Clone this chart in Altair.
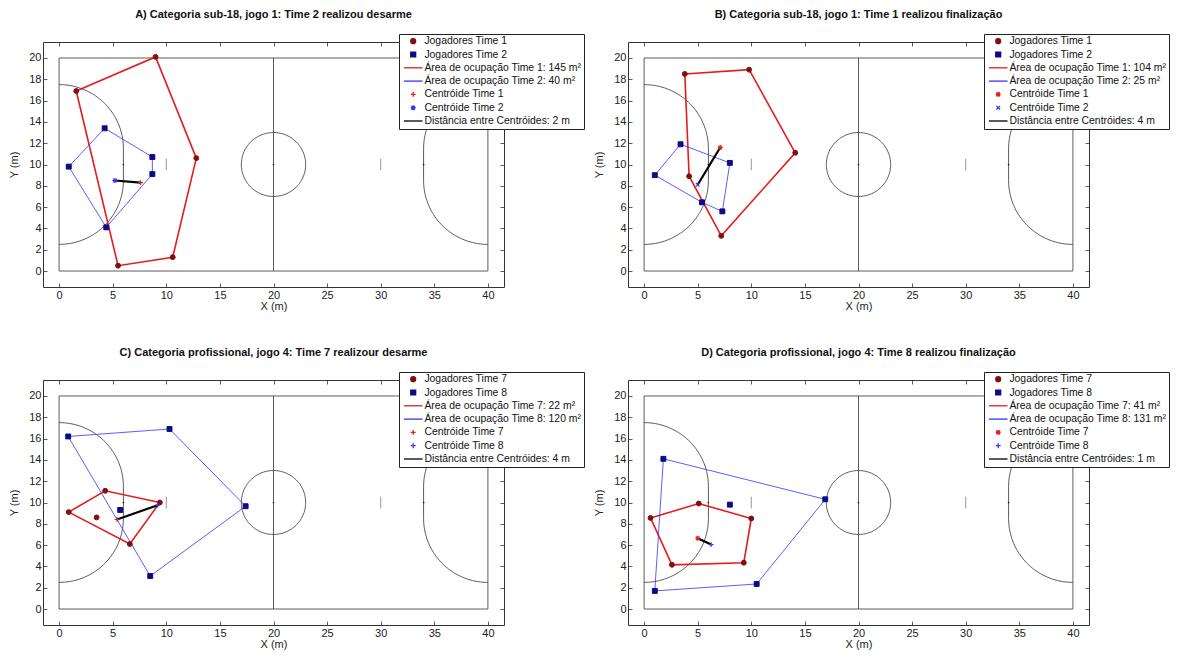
import altair as alt
import numpy as np
import pandas as pd

FONT = "Liberation Sans"

# ---------------- colours / symbols ----------------
RED = "#e51c1c"
BLUE = "#3434ff"
DARK_RED = "#7d1010"
NAVY = "#0b0b84"
COURT = "#4a4a4a"

PLUS = "M-1,0L1,0M0,-1L0,1"
XMARK = "M-0.75,-0.75L0.75,0.75M-0.75,0.75L0.75,-0.75"
STAR = PLUS + XMARK
LINE_SYM = "M-3.8,0L3.8,0"

# ---------------- court geometry (m) ----------------
COURT_LENGTH = 40
COURT_WIDTH = 20
CENTER_RADIUS = 3
AREA_RADIUS = 6
POST_Y = (8.5, 11.5)
PENALTY_SPOTS_X = [6, 20, 34]
SECOND_PENALTY_X = [10, 30]

X_TICKS = list(range(0, 41, 5))
Y_TICKS = list(range(0, 21, 2))

# ---------------- panel A ----------------
A_TITLE = "A) Categoria sub-18, jogo 1: Time 2 realizou desarme"
A_TEAMS = ["1", "2"]
A_AREAS = [145, 40]
A_DIST = 2
A_T1_X = [1.6, 9.0, 12.8, 10.6, 5.5]
A_T1_Y = [16.9, 20.1, 10.6, 1.3, 0.5]
A_T1_HULL = [1, 1, 1, 1, 1]
A_T2_X = [0.9, 4.25, 8.7, 8.7, 4.4]
A_T2_Y = [9.8, 13.4, 10.7, 9.1, 4.1]
A_T2_HULL = [1, 1, 1, 1, 1]
A_CENT_X = [7.6, 5.2]
A_CENT_Y = [8.3, 8.5]
A_CENT_SHAPES = [PLUS, STAR]

# ---------------- panel B ----------------
B_TITLE = "B) Categoria sub-18, jogo 1: Time 1 realizou finalização"
B_TEAMS = ["1", "2"]
B_AREAS = [104, 25]
B_DIST = 4
B_T1_X = [3.8, 9.8, 14.1, 7.2, 4.2]
B_T1_Y = [18.5, 18.9, 11.1, 3.3, 8.9]
B_T1_HULL = [1, 1, 1, 1, 1]
B_T2_X = [1.0, 3.4, 8.0, 7.3, 5.4]
B_T2_Y = [9.0, 11.9, 10.15, 5.6, 6.45]
B_T2_HULL = [1, 1, 1, 1, 1]
B_CENT_X = [7.1, 5.0]
B_CENT_Y = [11.6, 8.1]
B_CENT_SHAPES = [STAR, XMARK]

# ---------------- panel C ----------------
C_TITLE = "C) Categoria profissional, jogo 4: Time 7 realizour desarme"
C_TEAMS = ["7", "8"]
C_AREAS = [22, 120]
C_DIST = 4
C_T1_X = [0.9, 4.3, 9.4, 6.6, 3.5]
C_T1_Y = [9.1, 11.1, 10.0, 6.1, 8.6]
C_T1_HULL = [1, 1, 1, 1, 0]
C_T2_X = [0.85, 10.3, 17.4, 8.5, 5.7]
C_T2_Y = [16.2, 16.9, 9.65, 3.1, 9.3]
C_T2_HULL = [1, 1, 1, 1, 0]
C_CENT_X = [5.4, 9.2]
C_CENT_Y = [8.4, 9.75]
C_CENT_SHAPES = [PLUS, PLUS]

# ---------------- panel D ----------------
D_TITLE = "D) Categoria profissional, jogo 4: Time 8 realizou finalização"
D_TEAMS = ["7", "8"]
D_AREAS = [41, 131]
D_DIST = 1
D_T1_X = [0.6, 5.1, 10.0, 9.3, 2.6]
D_T1_Y = [8.55, 9.9, 8.5, 4.35, 4.15]
D_T1_HULL = [1, 1, 1, 1, 1]
D_T2_X = [1.8, 16.9, 10.5, 1.0, 8.0]
D_T2_Y = [14.1, 10.3, 2.35, 1.7, 9.8]
D_T2_HULL = [1, 1, 1, 1, 0]
D_CENT_X = [5.0, 6.25]
D_CENT_Y = [6.65, 6.05]
D_CENT_SHAPES = [STAR, PLUS]

PLOT_W = 461
PLOT_H = 245
LEGEND_X = 356
LEGEND_Y = -8


def court_frames():
    rows = []

    def add(name, xs, ys):
        for i, (x, y) in enumerate(zip(xs, ys)):
            rows.append({"seg": name, "x": float(x), "y": float(y), "ord": i})

    L, W = COURT_LENGTH, COURT_WIDTH
    add("boundary", [0, L, L, 0, 0], [0, 0, W, W, 0])
    add("half", [L / 2, L / 2], [0, W])
    t = np.linspace(0, 2 * np.pi, 121)
    add("circle", L / 2 + CENTER_RADIUS * np.cos(t), W / 2 + CENTER_RADIUS * np.sin(t))
    a1 = np.linspace(np.pi / 2, 0, 40)
    a2 = np.linspace(0, -np.pi / 2, 40)
    lx = np.concatenate([AREA_RADIUS * np.cos(a1), AREA_RADIUS * np.cos(a2)])
    ly = np.concatenate([POST_Y[1] + AREA_RADIUS * np.sin(a1),
                         POST_Y[0] + AREA_RADIUS * np.sin(a2)])
    add("area_left", lx, ly)
    add("area_right", L - lx, ly)
    marks = []
    for xm in SECOND_PENALTY_X:
        marks.append({"seg": f"m{xm}", "x": xm, "y": W / 2 - 0.55, "ord": 0})
        marks.append({"seg": f"m{xm}", "x": xm, "y": W / 2 + 0.55, "ord": 1})
    spots = pd.DataFrame({"x": PENALTY_SPOTS_X, "y": [W / 2] * len(PENALTY_SPOTS_X)})
    return pd.DataFrame(rows), pd.DataFrame(marks), spots


COURT_DF, MARKS_DF, SPOTS_DF = court_frames()


def panel(title, teams, areas, dist, t1x, t1y, t1h, t2x, t2y, t2h, cx, cy, cshapes):
    labels = [
        f"Jogadores Time {teams[0]}",
        f"Jogadores Time {teams[1]}",
        f"Área de ocupação Time {teams[0]}: {areas[0]} m²",
        f"Área de ocupação Time {teams[1]}: {areas[1]} m²",
        f"Centróide Time {teams[0]}",
        f"Centróide Time {teams[1]}",
        f"Distância entre Centróides: {dist} m",
    ]
    colors = [DARK_RED, NAVY, RED, BLUE, RED, BLUE, "black"]
    shapes = ["circle", "square", LINE_SYM, LINE_SYM, cshapes[0], cshapes[1], LINE_SYM]

    players = pd.DataFrame({
        "series": [labels[0]] * len(t1x) + [labels[1]] * len(t2x),
        "x": t1x + t2x,
        "y": t1y + t2y,
    })
    poly_rows = []
    for lab, xs, ys, hs in [(labels[2], t1x, t1y, t1h), (labels[3], t2x, t2y, t2h)]:
        hull = [(x, y) for x, y, h in zip(xs, ys, hs) if h]
        hull = hull + [hull[0]]
        for i, (x, y) in enumerate(hull):
            poly_rows.append({"series": lab, "x": x, "y": y, "ord": i})
    polys = pd.DataFrame(poly_rows)
    cents = pd.DataFrame({"series": [labels[4], labels[5]], "x": cx, "y": cy})
    dline = pd.DataFrame({"series": [labels[6]] * 2, "x": cx, "y": cy, "ord": [0, 1]})

    xs = alt.Scale(domain=[-1.5, 41.5], nice=False, zero=False)
    ys = alt.Scale(domain=[-1.5, 21.5], nice=False, zero=False)
    col_scale = alt.Scale(domain=labels, range=colors)
    shape_scale = alt.Scale(domain=labels, range=shapes)

    tick_common = dict(grid=False, domain=False, offset=-4, tickSize=4, tickColor="#333",
                       tickWidth=0.8)
    x_bottom = alt.Axis(values=X_TICKS, title="X (m)", labelPadding=2, titlePadding=0,
                        labelFontSize=11, titleFontSize=11, labelFont=FONT, titleFont=FONT,
                        titleFontWeight="normal", labelColor="#222", titleColor="#222",
                        **tick_common)
    y_left = alt.Axis(values=Y_TICKS, title="Y (m)", labelPadding=2, titlePadding=9,
                      labelFontSize=11, titleFontSize=11, labelFont=FONT, titleFont=FONT,
                      titleFontWeight="normal", labelColor="#222", titleColor="#222",
                      **tick_common)
    x_top = alt.Axis(values=X_TICKS, title=None, labels=False, orient="top", **tick_common)
    y_right = alt.Axis(values=Y_TICKS, title=None, labels=False, orient="right", **tick_common)

    legend = alt.Legend(
        title=None, orient="none", legendX=LEGEND_X, legendY=LEGEND_Y,
        symbolSize=24, symbolStrokeWidth=1.3, symbolOffset=7, labelOffset=6,
        labelFontSize=10.4, labelFont=FONT, labelColor="#111", labelLimit=400,
        padding=2, rowPadding=2.3, strokeColor="#222", fillColor="white",
        symbolOpacity=1,
    )

    def col(ch):
        if ch == "fill":
            return alt.Fill("series:N", scale=col_scale, legend=legend)
        return alt.Stroke("series:N", scale=col_scale, legend=legend)

    def shp():
        return alt.Shape("series:N", scale=shape_scale, legend=legend)

    court = alt.Chart(COURT_DF).mark_line(color=COURT, strokeWidth=0.9).encode(
        x=alt.X("x:Q", scale=xs, axis=x_top),
        y=alt.Y("y:Q", scale=ys, axis=y_right),
        detail="seg:N",
        order="ord:Q",
    )
    marks = alt.Chart(MARKS_DF).mark_line(color="#999", strokeWidth=1).encode(
        x=alt.X("x:Q", scale=xs, axis=None),
        y=alt.Y("y:Q", scale=ys, axis=None),
        detail="seg:N",
        order="ord:Q",
    )
    spots = alt.Chart(SPOTS_DF).mark_point(filled=True, size=3, color="#222", opacity=1).encode(
        x=alt.X("x:Q", scale=xs, axis=None),
        y=alt.Y("y:Q", scale=ys, axis=None),
    )

    def poly_layer(lab, width):
        return alt.Chart(polys).transform_filter(
            alt.datum.series == lab
        ).mark_line(strokeWidth=width).encode(
            x=alt.X("x:Q", scale=xs, axis=None),
            y=alt.Y("y:Q", scale=ys, axis=None),
            stroke=col("stroke"),
            order="ord:Q",
        )

    red_poly = poly_layer(labels[2], 1.6)
    blue_poly = poly_layer(labels[3], 0.8)
    dist_line = alt.Chart(dline).mark_line(strokeWidth=2.2).encode(
        x=alt.X("x:Q", scale=xs, axis=None),
        y=alt.Y("y:Q", scale=ys, axis=None),
        stroke=col("stroke"),
        order="ord:Q",
    )
    pts = alt.Chart(players).mark_point(filled=True, size=24, opacity=1, strokeWidth=1).encode(
        x=alt.X("x:Q", scale=xs, axis=x_bottom),
        y=alt.Y("y:Q", scale=ys, axis=y_left),
        fill=col("fill"),
        stroke=col("stroke"),
        shape=shp(),
    )
    cent = alt.Chart(cents).mark_point(filled=True, size=24, opacity=1, strokeWidth=1.1).encode(
        x=alt.X("x:Q", scale=xs, axis=None),
        y=alt.Y("y:Q", scale=ys, axis=None),
        fill=col("fill"),
        stroke=col("stroke"),
        shape=shp(),
    )

    return alt.layer(court, marks, spots, red_poly, blue_poly, dist_line, pts, cent).resolve_axis(
        x="independent", y="independent"
    ).properties(
        width=PLOT_W, height=PLOT_H,
        title=alt.Title(title, fontSize=11, font=FONT, fontWeight="bold", anchor="middle",
                        frame="group", offset=14, color="#111"),
    )


pa = panel(A_TITLE, A_TEAMS, A_AREAS, A_DIST, A_T1_X, A_T1_Y, A_T1_HULL,
           A_T2_X, A_T2_Y, A_T2_HULL, A_CENT_X, A_CENT_Y, A_CENT_SHAPES)
pb = panel(B_TITLE, B_TEAMS, B_AREAS, B_DIST, B_T1_X, B_T1_Y, B_T1_HULL,
           B_T2_X, B_T2_Y, B_T2_HULL, B_CENT_X, B_CENT_Y, B_CENT_SHAPES)
pc = panel(C_TITLE, C_TEAMS, C_AREAS, C_DIST, C_T1_X, C_T1_Y, C_T1_HULL,
           C_T2_X, C_T2_Y, C_T2_HULL, C_CENT_X, C_CENT_Y, C_CENT_SHAPES)
pd_ = panel(D_TITLE, D_TEAMS, D_AREAS, D_DIST, D_T1_X, D_T1_Y, D_T1_HULL,
            D_T2_X, D_T2_Y, D_T2_HULL, D_CENT_X, D_CENT_Y, D_CENT_SHAPES)

indep = dict(fill="independent", stroke="independent", shape="independent",
             x="independent", y="independent")
row1 = alt.hconcat(pa, pb, spacing=8).resolve_scale(**indep)
row2 = alt.hconcat(pc, pd_, spacing=8).resolve_scale(**indep)

chart = alt.vconcat(row1, row2, spacing=34).resolve_scale(**indep).properties(
    padding={"left": 0, "top": 0, "right": 0, "bottom": 0},
    background="white",
).configure_view(stroke="#333", strokeWidth=1)

chart.save("out.html", embed_options={"renderer": "svg", "actions": False})
